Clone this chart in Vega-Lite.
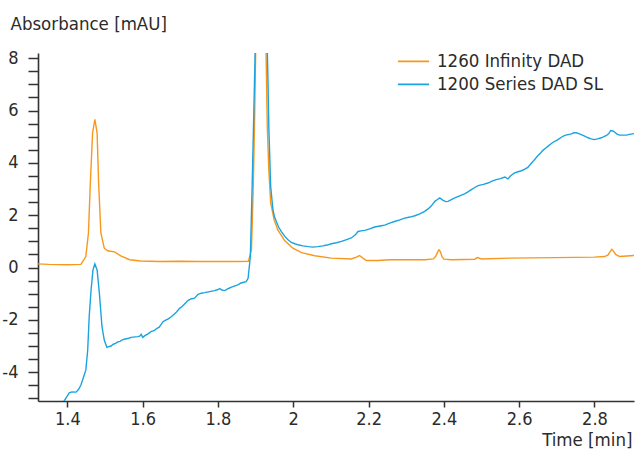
{
  "$schema": "https://vega.github.io/schema/vega-lite/v6.json",
  "width": 596,
  "height": 348,
  "autosize": {"type": "none"},
  "padding": {"left": 38, "top": 53, "right": 1, "bottom": 53},
  "background": "white",
  "config": {
    "view": {"stroke": null},
    "font": "DejaVu Sans Condensed, sans-serif"
  },
  "data": {
    "values": [
      {"t": 1.322, "v": 0.14, "s": "1260 Infinity DAD"},
      {"t": 1.35, "v": 0.12, "s": "1260 Infinity DAD"},
      {"t": 1.4, "v": 0.11, "s": "1260 Infinity DAD"},
      {"t": 1.436, "v": 0.12, "s": "1260 Infinity DAD"},
      {"t": 1.449, "v": 0.42, "s": "1260 Infinity DAD"},
      {"t": 1.456, "v": 1.32, "s": "1260 Infinity DAD"},
      {"t": 1.461, "v": 3.23, "s": "1260 Infinity DAD"},
      {"t": 1.467, "v": 5.15, "s": "1260 Infinity DAD"},
      {"t": 1.473, "v": 5.66, "s": "1260 Infinity DAD"},
      {"t": 1.479, "v": 5.15, "s": "1260 Infinity DAD"},
      {"t": 1.483, "v": 3.23, "s": "1260 Infinity DAD"},
      {"t": 1.489, "v": 1.32, "s": "1260 Infinity DAD"},
      {"t": 1.498, "v": 0.74, "s": "1260 Infinity DAD"},
      {"t": 1.507, "v": 0.64, "s": "1260 Infinity DAD"},
      {"t": 1.525, "v": 0.6, "s": "1260 Infinity DAD"},
      {"t": 1.542, "v": 0.45, "s": "1260 Infinity DAD"},
      {"t": 1.565, "v": 0.3, "s": "1260 Infinity DAD"},
      {"t": 1.595, "v": 0.25, "s": "1260 Infinity DAD"},
      {"t": 1.644, "v": 0.23, "s": "1260 Infinity DAD"},
      {"t": 1.7, "v": 0.24, "s": "1260 Infinity DAD"},
      {"t": 1.75, "v": 0.23, "s": "1260 Infinity DAD"},
      {"t": 1.8, "v": 0.23, "s": "1260 Infinity DAD"},
      {"t": 1.85, "v": 0.23, "s": "1260 Infinity DAD"},
      {"t": 1.881, "v": 0.24, "s": "1260 Infinity DAD"},
      {"t": 1.889, "v": 0.68, "s": "1260 Infinity DAD"},
      {"t": 1.894, "v": 3.23, "s": "1260 Infinity DAD"},
      {"t": 1.8975, "v": 5.8, "s": "1260 Infinity DAD"},
      {"t": 1.9, "v": 8.15, "s": "1260 Infinity DAD"},
      {"t": 1.9015, "v": 10, "s": "1260 Infinity DAD"},
      {"t": 1.914, "v": 60, "s": "1260 Infinity DAD"},
      {"t": 1.927, "v": 10, "s": "1260 Infinity DAD"},
      {"t": 1.928, "v": 8.0, "s": "1260 Infinity DAD"},
      {"t": 1.931, "v": 5.4, "s": "1260 Infinity DAD"},
      {"t": 1.935, "v": 3.74, "s": "1260 Infinity DAD"},
      {"t": 1.94, "v": 2.47, "s": "1260 Infinity DAD"},
      {"t": 1.946, "v": 2.05, "s": "1260 Infinity DAD"},
      {"t": 1.949, "v": 1.83, "s": "1260 Infinity DAD"},
      {"t": 1.959, "v": 1.44, "s": "1260 Infinity DAD"},
      {"t": 1.977, "v": 1.03, "s": "1260 Infinity DAD"},
      {"t": 1.999, "v": 0.74, "s": "1260 Infinity DAD"},
      {"t": 2.022, "v": 0.57, "s": "1260 Infinity DAD"},
      {"t": 2.057, "v": 0.45, "s": "1260 Infinity DAD"},
      {"t": 2.101, "v": 0.36, "s": "1260 Infinity DAD"},
      {"t": 2.154, "v": 0.33, "s": "1260 Infinity DAD"},
      {"t": 2.168, "v": 0.4, "s": "1260 Infinity DAD"},
      {"t": 2.176, "v": 0.46, "s": "1260 Infinity DAD"},
      {"t": 2.185, "v": 0.36, "s": "1260 Infinity DAD"},
      {"t": 2.194, "v": 0.27, "s": "1260 Infinity DAD"},
      {"t": 2.225, "v": 0.27, "s": "1260 Infinity DAD"},
      {"t": 2.256, "v": 0.3, "s": "1260 Infinity DAD"},
      {"t": 2.3, "v": 0.3, "s": "1260 Infinity DAD"},
      {"t": 2.35, "v": 0.3, "s": "1260 Infinity DAD"},
      {"t": 2.372, "v": 0.33, "s": "1260 Infinity DAD"},
      {"t": 2.378, "v": 0.42, "s": "1260 Infinity DAD"},
      {"t": 2.383, "v": 0.58, "s": "1260 Infinity DAD"},
      {"t": 2.387, "v": 0.68, "s": "1260 Infinity DAD"},
      {"t": 2.391, "v": 0.6, "s": "1260 Infinity DAD"},
      {"t": 2.395, "v": 0.42, "s": "1260 Infinity DAD"},
      {"t": 2.4, "v": 0.32, "s": "1260 Infinity DAD"},
      {"t": 2.42, "v": 0.3, "s": "1260 Infinity DAD"},
      {"t": 2.482, "v": 0.32, "s": "1260 Infinity DAD"},
      {"t": 2.489, "v": 0.38, "s": "1260 Infinity DAD"},
      {"t": 2.5, "v": 0.33, "s": "1260 Infinity DAD"},
      {"t": 2.575, "v": 0.36, "s": "1260 Infinity DAD"},
      {"t": 2.694, "v": 0.38, "s": "1260 Infinity DAD"},
      {"t": 2.8, "v": 0.4, "s": "1260 Infinity DAD"},
      {"t": 2.827, "v": 0.42, "s": "1260 Infinity DAD"},
      {"t": 2.836, "v": 0.48, "s": "1260 Infinity DAD"},
      {"t": 2.841, "v": 0.6, "s": "1260 Infinity DAD"},
      {"t": 2.846, "v": 0.7, "s": "1260 Infinity DAD"},
      {"t": 2.851, "v": 0.62, "s": "1260 Infinity DAD"},
      {"t": 2.856, "v": 0.5, "s": "1260 Infinity DAD"},
      {"t": 2.867, "v": 0.42, "s": "1260 Infinity DAD"},
      {"t": 2.905, "v": 0.46, "s": "1260 Infinity DAD"},

      {"t": 1.386, "v": -5.3, "s": "1200 Series DAD SL"},
      {"t": 1.39, "v": -5.13, "s": "1200 Series DAD SL"},
      {"t": 1.398, "v": -4.95, "s": "1200 Series DAD SL"},
      {"t": 1.405, "v": -4.79, "s": "1200 Series DAD SL"},
      {"t": 1.412, "v": -4.75, "s": "1200 Series DAD SL"},
      {"t": 1.423, "v": -4.76, "s": "1200 Series DAD SL"},
      {"t": 1.43, "v": -4.65, "s": "1200 Series DAD SL"},
      {"t": 1.436, "v": -4.49, "s": "1200 Series DAD SL"},
      {"t": 1.443, "v": -4.18, "s": "1200 Series DAD SL"},
      {"t": 1.449, "v": -3.92, "s": "1200 Series DAD SL"},
      {"t": 1.454, "v": -3.15, "s": "1200 Series DAD SL"},
      {"t": 1.458, "v": -1.88, "s": "1200 Series DAD SL"},
      {"t": 1.463, "v": -0.85, "s": "1200 Series DAD SL"},
      {"t": 1.468, "v": -0.09, "s": "1200 Series DAD SL"},
      {"t": 1.473, "v": 0.14, "s": "1200 Series DAD SL"},
      {"t": 1.479, "v": -0.09, "s": "1200 Series DAD SL"},
      {"t": 1.485, "v": -0.98, "s": "1200 Series DAD SL"},
      {"t": 1.492, "v": -2.26, "s": "1200 Series DAD SL"},
      {"t": 1.498, "v": -2.77, "s": "1200 Series DAD SL"},
      {"t": 1.505, "v": -3.05, "s": "1200 Series DAD SL"},
      {"t": 1.51, "v": -3.02, "s": "1200 Series DAD SL"},
      {"t": 1.516, "v": -3.0, "s": "1200 Series DAD SL"},
      {"t": 1.522, "v": -2.93, "s": "1200 Series DAD SL"},
      {"t": 1.528, "v": -2.9, "s": "1200 Series DAD SL"},
      {"t": 1.534, "v": -2.84, "s": "1200 Series DAD SL"},
      {"t": 1.54, "v": -2.82, "s": "1200 Series DAD SL"},
      {"t": 1.546, "v": -2.76, "s": "1200 Series DAD SL"},
      {"t": 1.551, "v": -2.74, "s": "1200 Series DAD SL"},
      {"t": 1.557, "v": -2.72, "s": "1200 Series DAD SL"},
      {"t": 1.563, "v": -2.7, "s": "1200 Series DAD SL"},
      {"t": 1.569, "v": -2.67, "s": "1200 Series DAD SL"},
      {"t": 1.575, "v": -2.66, "s": "1200 Series DAD SL"},
      {"t": 1.581, "v": -2.65, "s": "1200 Series DAD SL"},
      {"t": 1.587, "v": -2.64, "s": "1200 Series DAD SL"},
      {"t": 1.592, "v": -2.62, "s": "1200 Series DAD SL"},
      {"t": 1.596, "v": -2.55, "s": "1200 Series DAD SL"},
      {"t": 1.6, "v": -2.67, "s": "1200 Series DAD SL"},
      {"t": 1.606, "v": -2.6, "s": "1200 Series DAD SL"},
      {"t": 1.612, "v": -2.55, "s": "1200 Series DAD SL"},
      {"t": 1.618, "v": -2.5, "s": "1200 Series DAD SL"},
      {"t": 1.622, "v": -2.45, "s": "1200 Series DAD SL"},
      {"t": 1.628, "v": -2.42, "s": "1200 Series DAD SL"},
      {"t": 1.632, "v": -2.39, "s": "1200 Series DAD SL"},
      {"t": 1.638, "v": -2.32, "s": "1200 Series DAD SL"},
      {"t": 1.644, "v": -2.28, "s": "1200 Series DAD SL"},
      {"t": 1.654, "v": -2.07, "s": "1200 Series DAD SL"},
      {"t": 1.66, "v": -2.02, "s": "1200 Series DAD SL"},
      {"t": 1.668, "v": -1.96, "s": "1200 Series DAD SL"},
      {"t": 1.676, "v": -1.88, "s": "1200 Series DAD SL"},
      {"t": 1.682, "v": -1.8, "s": "1200 Series DAD SL"},
      {"t": 1.69, "v": -1.7, "s": "1200 Series DAD SL"},
      {"t": 1.698, "v": -1.56, "s": "1200 Series DAD SL"},
      {"t": 1.704, "v": -1.5, "s": "1200 Series DAD SL"},
      {"t": 1.712, "v": -1.38, "s": "1200 Series DAD SL"},
      {"t": 1.72, "v": -1.26, "s": "1200 Series DAD SL"},
      {"t": 1.728, "v": -1.2, "s": "1200 Series DAD SL"},
      {"t": 1.738, "v": -1.17, "s": "1200 Series DAD SL"},
      {"t": 1.747, "v": -1.02, "s": "1200 Series DAD SL"},
      {"t": 1.756, "v": -0.98, "s": "1200 Series DAD SL"},
      {"t": 1.765, "v": -0.96, "s": "1200 Series DAD SL"},
      {"t": 1.778, "v": -0.92, "s": "1200 Series DAD SL"},
      {"t": 1.791, "v": -0.88, "s": "1200 Series DAD SL"},
      {"t": 1.8, "v": -0.84, "s": "1200 Series DAD SL"},
      {"t": 1.805, "v": -0.8, "s": "1200 Series DAD SL"},
      {"t": 1.81, "v": -0.86, "s": "1200 Series DAD SL"},
      {"t": 1.818, "v": -0.88, "s": "1200 Series DAD SL"},
      {"t": 1.828, "v": -0.8, "s": "1200 Series DAD SL"},
      {"t": 1.836, "v": -0.75, "s": "1200 Series DAD SL"},
      {"t": 1.845, "v": -0.7, "s": "1200 Series DAD SL"},
      {"t": 1.853, "v": -0.66, "s": "1200 Series DAD SL"},
      {"t": 1.86, "v": -0.6, "s": "1200 Series DAD SL"},
      {"t": 1.866, "v": -0.57, "s": "1200 Series DAD SL"},
      {"t": 1.875, "v": -0.54, "s": "1200 Series DAD SL"},
      {"t": 1.88, "v": -0.41, "s": "1200 Series DAD SL"},
      {"t": 1.886, "v": 0.42, "s": "1200 Series DAD SL"},
      {"t": 1.891, "v": 3.23, "s": "1200 Series DAD SL"},
      {"t": 1.897, "v": 7.07, "s": "1200 Series DAD SL"},
      {"t": 1.899, "v": 8.5, "s": "1200 Series DAD SL"},
      {"t": 1.912, "v": 60, "s": "1200 Series DAD SL"},
      {"t": 1.93, "v": 9, "s": "1200 Series DAD SL"},
      {"t": 1.933, "v": 7, "s": "1200 Series DAD SL"},
      {"t": 1.935, "v": 5.4, "s": "1200 Series DAD SL"},
      {"t": 1.94, "v": 3.1, "s": "1200 Series DAD SL"},
      {"t": 1.946, "v": 2.21, "s": "1200 Series DAD SL"},
      {"t": 1.95, "v": 1.95, "s": "1200 Series DAD SL"},
      {"t": 1.955, "v": 1.76, "s": "1200 Series DAD SL"},
      {"t": 1.961, "v": 1.55, "s": "1200 Series DAD SL"},
      {"t": 1.968, "v": 1.38, "s": "1200 Series DAD SL"},
      {"t": 1.977, "v": 1.2, "s": "1200 Series DAD SL"},
      {"t": 1.986, "v": 1.06, "s": "1200 Series DAD SL"},
      {"t": 1.995, "v": 0.96, "s": "1200 Series DAD SL"},
      {"t": 2.004, "v": 0.91, "s": "1200 Series DAD SL"},
      {"t": 2.015, "v": 0.86, "s": "1200 Series DAD SL"},
      {"t": 2.026, "v": 0.83, "s": "1200 Series DAD SL"},
      {"t": 2.04, "v": 0.8, "s": "1200 Series DAD SL"},
      {"t": 2.052, "v": 0.78, "s": "1200 Series DAD SL"},
      {"t": 2.065, "v": 0.8, "s": "1200 Series DAD SL"},
      {"t": 2.079, "v": 0.83, "s": "1200 Series DAD SL"},
      {"t": 2.09, "v": 0.86, "s": "1200 Series DAD SL"},
      {"t": 2.101, "v": 0.91, "s": "1200 Series DAD SL"},
      {"t": 2.115, "v": 0.95, "s": "1200 Series DAD SL"},
      {"t": 2.128, "v": 1.0, "s": "1200 Series DAD SL"},
      {"t": 2.14, "v": 1.06, "s": "1200 Series DAD SL"},
      {"t": 2.154, "v": 1.13, "s": "1200 Series DAD SL"},
      {"t": 2.165, "v": 1.25, "s": "1200 Series DAD SL"},
      {"t": 2.172, "v": 1.38, "s": "1200 Series DAD SL"},
      {"t": 2.18, "v": 1.4, "s": "1200 Series DAD SL"},
      {"t": 2.19, "v": 1.42, "s": "1200 Series DAD SL"},
      {"t": 2.203, "v": 1.48, "s": "1200 Series DAD SL"},
      {"t": 2.216, "v": 1.55, "s": "1200 Series DAD SL"},
      {"t": 2.234, "v": 1.6, "s": "1200 Series DAD SL"},
      {"t": 2.243, "v": 1.62, "s": "1200 Series DAD SL"},
      {"t": 2.256, "v": 1.7, "s": "1200 Series DAD SL"},
      {"t": 2.269, "v": 1.76, "s": "1200 Series DAD SL"},
      {"t": 2.283, "v": 1.82, "s": "1200 Series DAD SL"},
      {"t": 2.296, "v": 1.89, "s": "1200 Series DAD SL"},
      {"t": 2.31, "v": 1.93, "s": "1200 Series DAD SL"},
      {"t": 2.323, "v": 1.98, "s": "1200 Series DAD SL"},
      {"t": 2.336, "v": 2.05, "s": "1200 Series DAD SL"},
      {"t": 2.349, "v": 2.15, "s": "1200 Series DAD SL"},
      {"t": 2.358, "v": 2.24, "s": "1200 Series DAD SL"},
      {"t": 2.367, "v": 2.36, "s": "1200 Series DAD SL"},
      {"t": 2.376, "v": 2.53, "s": "1200 Series DAD SL"},
      {"t": 2.383, "v": 2.6, "s": "1200 Series DAD SL"},
      {"t": 2.389, "v": 2.66, "s": "1200 Series DAD SL"},
      {"t": 2.398, "v": 2.57, "s": "1200 Series DAD SL"},
      {"t": 2.405, "v": 2.52, "s": "1200 Series DAD SL"},
      {"t": 2.411, "v": 2.53, "s": "1200 Series DAD SL"},
      {"t": 2.42, "v": 2.6, "s": "1200 Series DAD SL"},
      {"t": 2.429, "v": 2.66, "s": "1200 Series DAD SL"},
      {"t": 2.442, "v": 2.74, "s": "1200 Series DAD SL"},
      {"t": 2.455, "v": 2.82, "s": "1200 Series DAD SL"},
      {"t": 2.465, "v": 2.9, "s": "1200 Series DAD SL"},
      {"t": 2.473, "v": 2.98, "s": "1200 Series DAD SL"},
      {"t": 2.482, "v": 3.06, "s": "1200 Series DAD SL"},
      {"t": 2.491, "v": 3.13, "s": "1200 Series DAD SL"},
      {"t": 2.505, "v": 3.18, "s": "1200 Series DAD SL"},
      {"t": 2.517, "v": 3.23, "s": "1200 Series DAD SL"},
      {"t": 2.528, "v": 3.3, "s": "1200 Series DAD SL"},
      {"t": 2.539, "v": 3.36, "s": "1200 Series DAD SL"},
      {"t": 2.55, "v": 3.4, "s": "1200 Series DAD SL"},
      {"t": 2.562, "v": 3.46, "s": "1200 Series DAD SL"},
      {"t": 2.57, "v": 3.39, "s": "1200 Series DAD SL"},
      {"t": 2.578, "v": 3.52, "s": "1200 Series DAD SL"},
      {"t": 2.588, "v": 3.62, "s": "1200 Series DAD SL"},
      {"t": 2.597, "v": 3.66, "s": "1200 Series DAD SL"},
      {"t": 2.606, "v": 3.7, "s": "1200 Series DAD SL"},
      {"t": 2.615, "v": 3.76, "s": "1200 Series DAD SL"},
      {"t": 2.623, "v": 3.83, "s": "1200 Series DAD SL"},
      {"t": 2.63, "v": 3.95, "s": "1200 Series DAD SL"},
      {"t": 2.637, "v": 4.06, "s": "1200 Series DAD SL"},
      {"t": 2.644, "v": 4.18, "s": "1200 Series DAD SL"},
      {"t": 2.65, "v": 4.28, "s": "1200 Series DAD SL"},
      {"t": 2.657, "v": 4.38, "s": "1200 Series DAD SL"},
      {"t": 2.663, "v": 4.48, "s": "1200 Series DAD SL"},
      {"t": 2.67, "v": 4.56, "s": "1200 Series DAD SL"},
      {"t": 2.677, "v": 4.64, "s": "1200 Series DAD SL"},
      {"t": 2.684, "v": 4.72, "s": "1200 Series DAD SL"},
      {"t": 2.69, "v": 4.79, "s": "1200 Series DAD SL"},
      {"t": 2.697, "v": 4.84, "s": "1200 Series DAD SL"},
      {"t": 2.703, "v": 4.89, "s": "1200 Series DAD SL"},
      {"t": 2.712, "v": 4.98, "s": "1200 Series DAD SL"},
      {"t": 2.721, "v": 5.05, "s": "1200 Series DAD SL"},
      {"t": 2.73, "v": 5.08, "s": "1200 Series DAD SL"},
      {"t": 2.739, "v": 5.11, "s": "1200 Series DAD SL"},
      {"t": 2.745, "v": 5.15, "s": "1200 Series DAD SL"},
      {"t": 2.752, "v": 5.15, "s": "1200 Series DAD SL"},
      {"t": 2.758, "v": 5.12, "s": "1200 Series DAD SL"},
      {"t": 2.765, "v": 5.08, "s": "1200 Series DAD SL"},
      {"t": 2.774, "v": 5.02, "s": "1200 Series DAD SL"},
      {"t": 2.783, "v": 4.96, "s": "1200 Series DAD SL"},
      {"t": 2.791, "v": 4.92, "s": "1200 Series DAD SL"},
      {"t": 2.799, "v": 4.89, "s": "1200 Series DAD SL"},
      {"t": 2.808, "v": 4.92, "s": "1200 Series DAD SL"},
      {"t": 2.818, "v": 4.96, "s": "1200 Series DAD SL"},
      {"t": 2.825, "v": 5.0, "s": "1200 Series DAD SL"},
      {"t": 2.832, "v": 5.05, "s": "1200 Series DAD SL"},
      {"t": 2.838, "v": 5.12, "s": "1200 Series DAD SL"},
      {"t": 2.843, "v": 5.24, "s": "1200 Series DAD SL"},
      {"t": 2.849, "v": 5.22, "s": "1200 Series DAD SL"},
      {"t": 2.854, "v": 5.17, "s": "1200 Series DAD SL"},
      {"t": 2.86, "v": 5.1, "s": "1200 Series DAD SL"},
      {"t": 2.867, "v": 5.06, "s": "1200 Series DAD SL"},
      {"t": 2.876, "v": 5.06, "s": "1200 Series DAD SL"},
      {"t": 2.885, "v": 5.06, "s": "1200 Series DAD SL"},
      {"t": 2.893, "v": 5.09, "s": "1200 Series DAD SL"},
      {"t": 2.905, "v": 5.12, "s": "1200 Series DAD SL"}
    ]
  },
  "mark": {"type": "line", "clip": true, "strokeWidth": 1.4},
  "encoding": {
    "x": {
      "field": "t",
      "type": "quantitative",
      "scale": {"domain": [1.322, 2.905], "nice": false, "zero": false},
      "axis": {
        "title": "Time [min]",
        "values": [1.4, 1.6, 1.8, 2.0, 2.2, 2.4, 2.6, 2.8],
        "labelExpr": "'' + datum.value",
        "grid": false,
        "domainColor": "#333333",
        "domainWidth": 1.6,
        "tickColor": "#333333",
        "tickWidth": 1.5,
        "tickSize": 6,
        "labelPadding": 3,
        "labelFontSize": 18,
        "labelColor": "#2b2b2b",
        "labelFlush": false,
        "labelOverlap": false,
        "titleFontSize": 18.5,
        "titleFontWeight": "normal",
        "titleColor": "#2b2b2b",
        "titleAlign": "right",
        "titleBaseline": "alphabetic",
        "titleAnchor": null,
        "titleX": 594,
        "titleY": 44
      }
    },
    "y": {
      "field": "v",
      "type": "quantitative",
      "scale": {"domain": [-5.1, 8.2], "nice": false, "zero": false},
      "axis": {
        "title": "Absorbance [mAU]",
        "values": [-5, -4.5, -4, -3.5, -3, -2.5, -2, -1.5, -1, -0.5, 0, 0.5, 1, 1.5, 2, 2.5, 3, 3.5, 4, 4.5, 5, 5.5, 6, 6.5, 7, 7.5, 8],
        "labelExpr": "datum.value % 2 === 0 ? '' + datum.value : ''",
        "grid": false,
        "domainColor": "#333333",
        "domainWidth": 1.6,
        "tickColor": "#333333",
        "tickWidth": 1.5,
        "tickSize": 10,
        "labelPadding": 10,
        "labelFontSize": 18,
        "labelColor": "#2b2b2b",
        "labelFlush": false,
        "labelOverlap": false,
        "titleFontSize": 18.5,
        "titleFontWeight": "normal",
        "titleColor": "#2b2b2b",
        "titleAngle": 0,
        "titleAlign": "left",
        "titleBaseline": "alphabetic",
        "titleAnchor": null,
        "titleX": -28,
        "titleY": -24,
        "encode": {
          "ticks": {
            "update": {
              "x2": {"signal": "datum.value % 2 === 0 ? -10 : -5"}
            }
          }
        }
      }
    },
    "color": {
      "field": "s",
      "type": "nominal",
      "scale": {
        "domain": ["1260 Infinity DAD", "1200 Series DAD SL"],
        "range": ["#F7981D", "#1BA3E0"]
      },
      "legend": {
        "title": null,
        "orient": "none",
        "legendX": 362.5,
        "legendY": -4.6,
        "padding": 0,
        "symbolType": "M-1.3,0L1.3,0",
        "symbolSize": 576,
        "symbolStrokeWidth": 1.6,
        "symbolFillColor": "transparent",
        "labelOffset": 10.5,
        "rowPadding": 0,
        "labelFontSize": 18.5,
        "labelColor": "#2b2b2b",
        "labelLimit": 300
      }
    }
  }
}
